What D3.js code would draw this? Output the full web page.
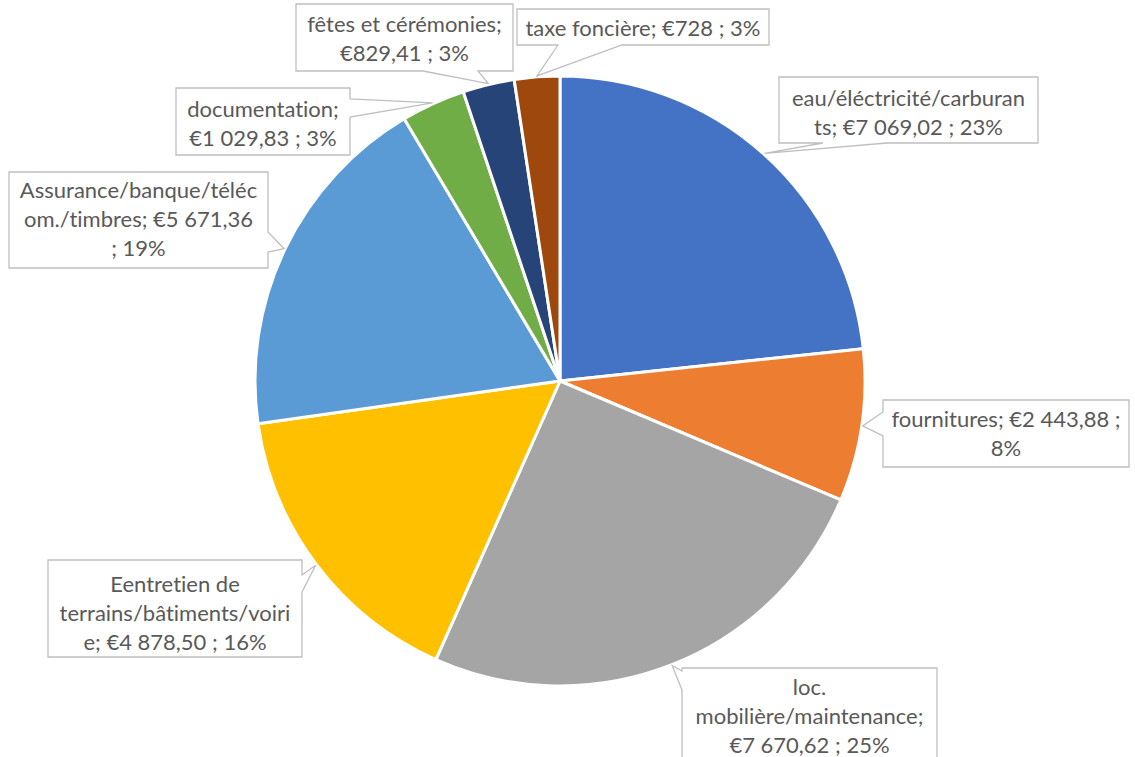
<!DOCTYPE html>
<html><head><meta charset="utf-8">
<script src="https://cdn.jsdelivr.net/npm/d3@7"></script>
<style>body{margin:0;background:#fff}svg{display:block}text{font-variant-ligatures:none;font-feature-settings:"liga" 0}</style>
</head><body>
<svg id="c" width="1135" height="757"></svg>
<script>
// ---- data ----
const categories = ["eau/éléctricité/carburants","fournitures","loc. mobilière/maintenance","Eentretien de terrains/bâtiments/voirie","Assurance/banque/télécom./timbres","documentation","fêtes et cérémonies","taxe foncière"];
const values = [7069.02, 2443.88, 7670.62, 4878.50, 5671.36, 1029.83, 829.41, 728];
const percentLabels = ["23%","8%","25%","16%","19%","3%","3%","3%"];
const colors = ["#4472C4","#ED7D31","#A5A5A5","#FFC000","#5B9BD5","#70AD47","#264478","#9E480E"];

// ---- layout (label callouts) ----
const layout = [
  {box:[779,77,259,66], side:"bottom", base:[823,887], lines:["eau/éléctricité/carburan","ts; €7 069,02 ; 23%"], base0:106},
  {box:[883,400,246,67], side:"left", base:[412,436], lines:["fournitures; €2 443,88 ;","8%"], base0:427},
  {box:[682,668,255,120], side:"left", base:[671,690], lines:["loc.","mobilière/maintenance;","€7 670,62 ; 25%"], base0:695},
  {box:[48,560,254,97], side:"right", base:[575,592], lines:["Eentretien de","terrains/bâtiments/voiri","e; €4 878,50 ; 16%"], base0:592},
  {box:[9,172,259,96], side:"right", base:[232,252], lines:["Assurance/banque/téléc","om./timbres; €5 671,36","; 19%"], base0:198},
  {box:[176,88,174,67], side:"right", base:[99,117], lines:["documentation;","€1 029,83 ; 3%"], base0:117},
  {box:[296,4,217,67], side:"bottom", base:[423,478], lines:["fêtes et cérémonies;","€829,41 ; 3%"], base0:32},
  {box:[517,9,252,36], side:"bottom", base:[558,622], lines:["taxe foncière; €728 ; 3%"], base0:36}
];

const cx = 560, cy = 381, R = 305;
const svg = d3.select("#c");
const g = svg.append("g").attr("transform",`translate(${cx},${cy})`);
const pie = d3.pie().sort(null).value(d=>d)(values);
const arc = d3.arc().innerRadius(0).outerRadius(R);
g.selectAll("path.s").data(pie).join("path").attr("class","s")
  .attr("d",arc).attr("fill",(d,i)=>colors[i])
  .attr("stroke","#fff").attr("stroke-width",3).attr("stroke-linejoin","round");

// callouts
const lg = svg.append("g");
pie.forEach((p,i)=>{
  const L = layout[i];
  const a = (p.startAngle+p.endAngle)/2;
  const tx = cx + (R+1)*Math.sin(a), ty = cy - (R+1)*Math.cos(a);
  const [x,y,w,h] = L.box, x2=x+w, y2=y+h;
  let d;
  if(L.side==="bottom"){
    d=`M${x},${y}H${x2}V${y2}H${L.base[1]}L${tx},${ty}L${L.base[0]},${y2}H${x}Z`;
  } else if(L.side==="left"){
    d=`M${x},${y}H${x2}V${y2}H${x}V${L.base[1]}L${tx},${ty}L${x},${L.base[0]}Z`;
  } else {
    d=`M${x},${y}H${x2}V${L.base[0]}L${tx},${ty}L${x2},${L.base[1]}V${y2}H${x}Z`;
  }
  lg.append("path").attr("d",d).attr("fill","#fff").attr("stroke","#BFBFBF").attr("stroke-width",1.3);
  const t = lg.append("text").attr("text-anchor","middle")
    .attr("font-family","Lato, 'Open Sans', sans-serif").attr("font-size",22).attr("fill","#595959");
  L.lines.forEach((ln,j)=>{
    t.append("tspan").attr("x",x+w/2).attr("y",L.base0+j*29).text(ln);
  });
});
</script>
</body></html>
